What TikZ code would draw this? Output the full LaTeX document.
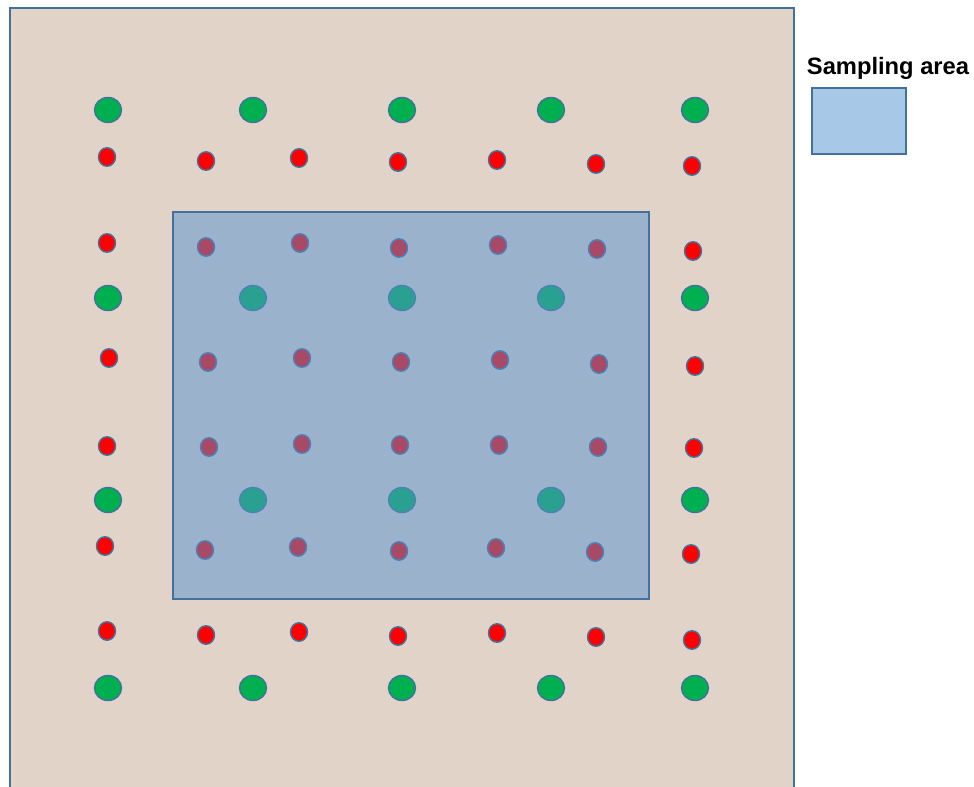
\documentclass[tikz,border=0pt]{standalone}
\definecolor{soilbeige}{RGB}{226, 211, 200}
\definecolor{edgeblue}{RGB}{65, 113, 156}
\definecolor{areablue}{RGB}{84, 147, 208}
\definecolor{legendblue}{RGB}{168, 200, 232}
\definecolor{plantgreen}{RGB}{0, 176, 80}
\definecolor{seedred}{RGB}{255, 0, 0}
\usepackage{fontspec}
\setmainfont{Liberation Sans}
\usepackage{tikz}
\usetikzlibrary{shapes, positioning}

\begin{document}
\begin{tikzpicture}[x=0.02cm, y=-0.02cm,
  field/.style={draw=edgeblue, fill=soilbeige, line width=0.8pt},
  bigdot/.style={ellipse, draw=edgeblue, fill=plantgreen, line width=0.8pt, minimum width=0.54cm, minimum height=0.5cm, inner sep=0pt},
  smalldot/.style={ellipse, draw=edgeblue, fill=seedred, line width=0.8pt, minimum width=0.34cm, minimum height=0.37cm, inner sep=0pt},
  area/.style={draw=edgeblue, line width=1pt, fill=areablue, fill opacity=0.5}
]
  \useasboundingbox (0,0) rectangle (974,787);
  \fill[white] (0,0) rectangle (974,787);
  \draw[field] (10,8) rectangle (794,800);

  % green plants
  \foreach \y [count=\r] in {110, 298, 500, 688} {
    \foreach \x [count=\c] in {108, 253, 402, 551, 695} {
      \node[bigdot] (g\r\c) at (\x,\y) {};
    }
  }

  % red points, one row at a time
  \foreach \x/\y [count=\c] in {107/157, 206/161, 299/158, 398/162, 497/160, 596/164, 692/166}
    \node[smalldot] (ra\c) at (\x,\y) {};
  \foreach \x/\y [count=\c] in {107/243, 206/247, 300/243, 399/248, 498/245, 597/249, 693/251}
    \node[smalldot] (rb\c) at (\x,\y) {};
  \foreach \x/\y [count=\c] in {109/358, 208/362, 302/358, 401/362, 500/360, 599/364, 695/366}
    \node[smalldot] (rc\c) at (\x,\y) {};
  \foreach \x/\y [count=\c] in {107/446, 209/447, 302/444, 400/445, 499/445, 598/447, 694/448}
    \node[smalldot] (rd\c) at (\x,\y) {};
  \foreach \x/\y [count=\c] in {105/546, 205/550, 298/547, 399/551, 496/548, 595/552, 691/554}
    \node[smalldot] (re\c) at (\x,\y) {};
  \foreach \x/\y [count=\c] in {107/631, 206/635, 299/632, 398/636, 497/633, 596/637, 692/640}
    \node[smalldot] (rf\c) at (\x,\y) {};

  % sampling area on top
  \draw[area] (173,212) rectangle (649,599);

  % legend
  \node[font=\fontsize{13.5}{16}\selectfont\bfseries, inner sep=0pt] (legtext) at (888,68) {Sampling area};
  \draw[draw=edgeblue, fill=legendblue, line width=0.8pt] (812,88) rectangle (906,154);
\end{tikzpicture}
\end{document}
